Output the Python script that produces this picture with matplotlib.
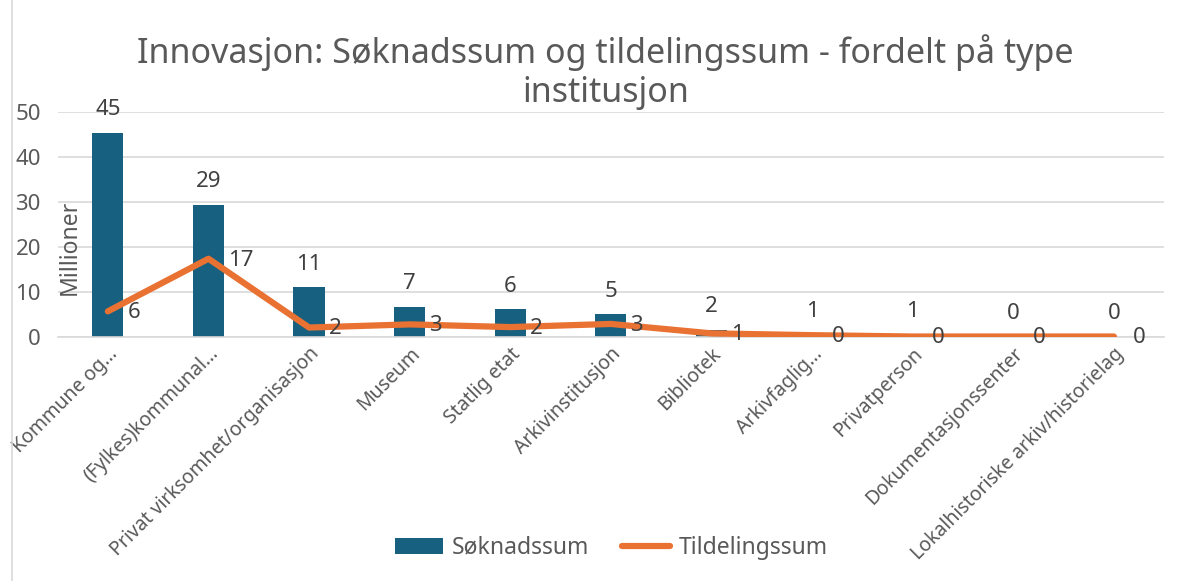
import matplotlib.pyplot as plt
import matplotlib.lines as mlines
import numpy as np

plt.rcParams['font.family'] = ['Noto Sans', 'DejaVu Sans']

# DATA
kategorier = ["Kommune og…", "(Fylkes)kommunal…", "Privat virksomhet/organisasjon",
              "Museum", "Statlig etat", "Arkivinstitusjon", "Bibliotek", "Arkivfaglig…",
              "Privatperson", "Dokumentasjonssenter", "Lokalhistoriske arkiv/historielag"]
soknadssum = [45.4, 29.4, 11.1, 6.7, 6.2, 5.0, 1.6, 0.6, 0.6, 0.2, 0.1]
tildelingssum = [5.7, 17.4, 2.1, 2.8, 2.2, 2.9, 0.8, 0.4, 0.1, 0.1, 0.1]

BLA = "#17607f"
ORANSJE = "#e97132"
GRA = "#595959"

fig = plt.figure(figsize=(11.99, 5.81), dpi=100)
ax = fig.add_axes([0.048, 0.42, 0.923, 0.387])

x = np.arange(len(kategorier))
stolper = ax.bar(x, soknadssum, width=0.31, color=BLA, label="Søknadssum", zorder=2)
linje, = ax.plot(x, tildelingssum, color=ORANSJE, lw=4.5, solid_capstyle='round',
                 label="Tildelingssum", zorder=3)

for xi, v in zip(x, soknadssum):
    ax.annotate(f"{v:.0f}", (xi, v), xytext=(0, 9), textcoords="offset points",
                ha="center", va="bottom", fontsize=16, color="#404040")
for xi, v in zip(x, tildelingssum):
    ax.annotate(f"{v:.0f}", (xi, v), xytext=(14, -1), textcoords="offset points",
                ha="left", va="center", fontsize=16, color="#404040")

ax.set_xlim(-0.5, len(kategorier) - 0.5)
ax.set_ylim(0, 50)
ax.set_yticks(range(0, 51, 10))
ax.grid(axis="y", color="#d9d9d9", lw=1.2, zorder=0)
for s in ["top", "right", "left"]:
    ax.spines[s].set_visible(False)
ax.spines["bottom"].set_color("#d9d9d9")
ax.spines["bottom"].set_linewidth(1.2)
ax.tick_params(length=0, labelsize=16, colors=GRA)
ax.tick_params(axis="y", pad=12)
ax.set_xticks(x)
ax.set_xticklabels(kategorier, rotation=45, ha="right", rotation_mode="anchor",
                   fontsize=14)
ax.tick_params(axis="x", pad=5)

fig.text(0.058, 0.575, "Millioner", rotation=90, fontsize=16.5, color=GRA,
         ha="center", va="center")

fig.text(0.505, 0.876, "Innovasjon: Søknadssum og tildelingssum - fordelt på type\ninstitusjon",
         ha="center", va="center", fontsize=24.5, color=GRA, linespacing=1.2)

fig.legend(handles=[stolper, linje], loc="center", bbox_to_anchor=(0.51, 0.057),
           ncol=2, frameon=False, fontsize=16.5, labelcolor=GRA, handlelength=2.1,
           columnspacing=1.4, handletextpad=0.4)

fig.add_artist(mlines.Line2D([0.01, 0.01], [0, 1], color="#d9d9d9", lw=1.2))

fig.savefig("out.png", dpi=100)
